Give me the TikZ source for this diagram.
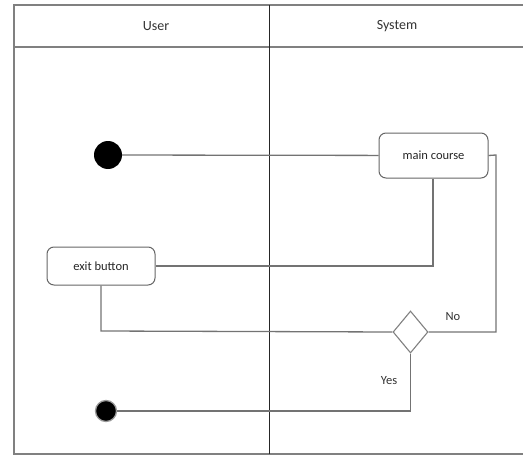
\documentclass[tikz,border=0pt]{standalone}
\usepackage{fontspec}
\setmainfont{Carlito}
\usetikzlibrary{shapes.geometric}
\begin{document}
\begin{tikzpicture}[x=1pt,y=-1pt,
  conn/.style={draw=black!55, line width=1.3pt},
  frame/.style={draw=black!50, line width=1.4pt},
  act/.style={draw=black!60, line width=1pt, rounded corners=7pt, minimum width=108pt, minimum height=44pt, font=\fontsize{12.5}{14}\selectfont, text=black!85},
  dec/.style={diamond, draw=black!50, line width=1.1pt, minimum width=35pt, minimum height=42pt, inner sep=0pt},
  lbl/.style={font=\fontsize{12.5}{14}\selectfont, text=black!80},
  head/.style={font=\fontsize{14}{16}\selectfont, text=black!80}]
\useasboundingbox (0,0) rectangle (523,455);
% frame
\draw[frame] (523,5) -- (14,5) -- (14,454) -- (523,454);
\draw[frame] (14,47) -- (523,47);
\draw[draw=black!85, line width=0.9pt] (269,5) -- (269,454);
\node[head] (huser) at (156,26) {User};
\node[head] (hsys) at (397,26) {System};
% nodes
\node[circle, fill=black, minimum size=28pt, inner sep=0pt] (start) at (108,155) {};
\node[act, minimum width=109pt, minimum height=45pt] (main) at (433.5,155.5) {main course};
\node[act, minimum height=38pt] (exit) at (101,266) {exit button};
\node[dec] (d) at (410.5,332) {};
\node[circle, fill=black, draw=black!40, line width=1.3pt, minimum size=21pt, inner sep=0pt] (end) at (106,411) {};
\coordinate (c1) at (496,155);
\coordinate (c2) at (496,332);
\coordinate (c3) at (433,266);
\coordinate (c4) at (101,331);
\coordinate (c5) at (410.5,411);
% connectors
\draw[conn] (start) -- (main);
\draw[conn] (main.east) -- (c1) -- (c2) -- (d.east);
\draw[conn] (main.south -| c3) -- (c3) -- (exit.east);
\draw[conn] (exit.south) -- (c4) -- (d.west);
\draw[conn] (d.south) -- (c5) -- (end);
\node[lbl] (no) at (453,317) {No};
\node[lbl] (yes) at (389,381) {Yes};
\end{tikzpicture}
\end{document}
